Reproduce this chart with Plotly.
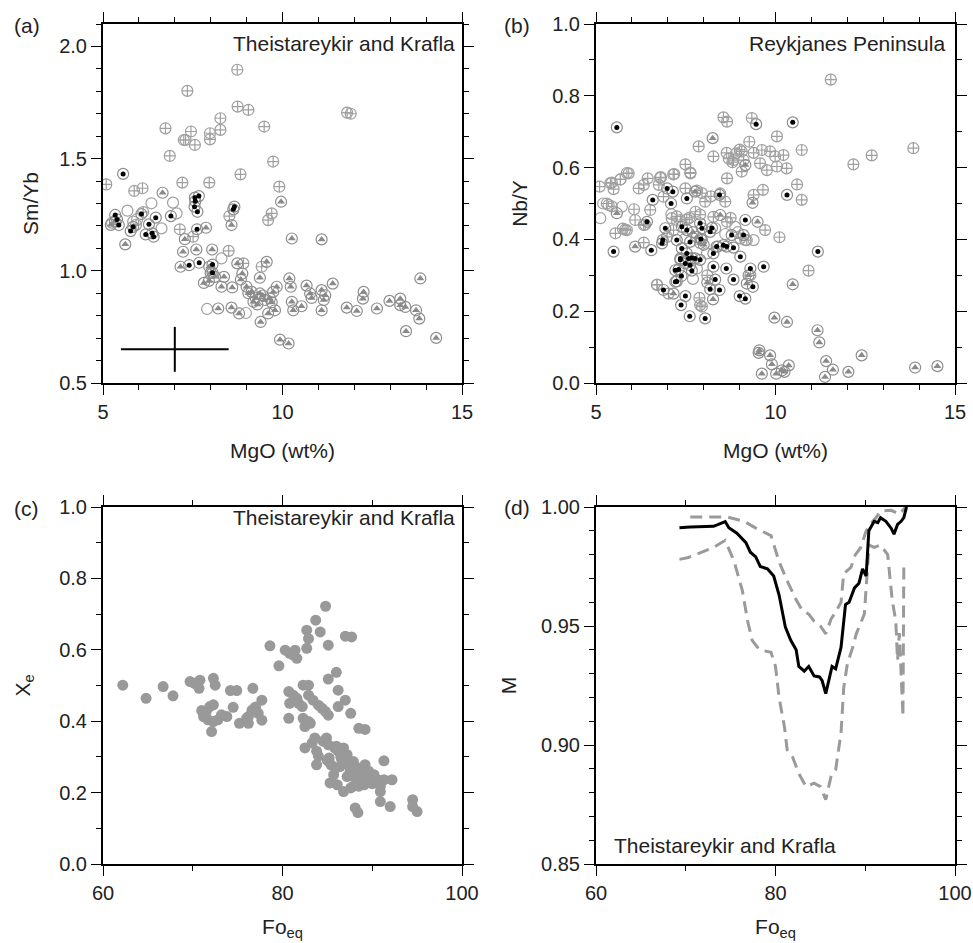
import plotly.graph_objects as go

# ---------------- Panel (a): Theistareykir and Krafla, Sm/Yb vs MgO ----------------
a_cross_x = [8.74, 7.35, 8.75, 9.05, 8.27, 8.27, 7.45, 7.98, 7.98, 7.25, 6.74, 7.56, 6.86, 9.49, 9.74,
             8.83, 7.21, 7.96, 9.91, 5.09, 5.87, 6.10, 7.14, 8.52, 9.70, 9.60, 7.51, 8.50, 8.91, 9.42,
             11.80, 11.90, 7.30, 6.12, 5.92]
a_cross_y = [1.896, 1.802, 1.732, 1.717, 1.680, 1.628, 1.621, 1.613, 1.586, 1.583, 1.635, 1.561, 1.512, 1.643, 1.487,
             1.430, 1.393, 1.393, 1.375, 1.385, 1.356, 1.368, 1.185, 1.244, 1.256, 1.226, 1.152, 1.089, 1.033, 1.018,
             1.705, 1.700, 1.583, 1.262, 1.205]
a_dot_x = [5.56, 5.34, 5.39, 5.44, 5.84, 5.77, 6.07, 6.28, 6.19, 6.37, 6.41, 6.47, 6.89, 7.57, 7.55,
           7.63, 7.67, 7.56, 7.62, 8.66, 8.63, 7.40, 7.68, 8.05, 8.05]
a_dot_y = [1.432, 1.249, 1.229, 1.204, 1.196, 1.177, 1.253, 1.207, 1.162, 1.167, 1.152, 1.237, 1.244, 1.310, 1.286,
           1.263, 1.333, 1.326, 1.185, 1.286, 1.274, 1.025, 1.036, 1.028, 0.991]
a_open_x = [5.68, 6.35, 6.63, 6.95, 7.05, 5.84, 8.30, 7.90, 8.98, 5.25, 5.95]
a_open_y = [1.268, 1.301, 1.189, 1.304, 1.256, 1.219, 1.055, 0.830, 0.812, 1.215, 1.230]
a_tri_x = [6.66, 5.62, 5.33, 5.22, 7.87, 8.58, 7.28, 7.23, 7.60, 8.04, 7.16, 7.81, 7.96, 8.21, 8.12,
           8.37, 8.30, 8.60, 8.74, 8.88, 8.84, 8.58, 8.79, 9.00, 9.14, 9.19, 9.37, 9.39, 9.56, 9.37,
           9.65, 9.74, 9.84, 9.60, 9.79, 9.96, 10.26, 11.09, 10.19, 10.23, 10.26, 10.30, 10.53, 10.67, 10.77,
           10.81, 11.09, 11.19, 11.09, 11.40, 11.79, 12.07, 12.26, 12.24, 12.63, 12.98, 13.28, 13.28, 13.42, 13.44,
           13.72, 13.81, 13.84, 14.28, 9.93, 10.17, 9.05, 9.25, 9.50, 9.70, 8.00, 7.95, 11.15, 9.30, 9.45]
a_tri_y = [1.348, 1.118, 1.219, 1.205, 1.192, 1.204, 1.141, 1.085, 1.095, 1.095, 1.018, 0.946, 1.018, 0.832, 0.973,
           0.973, 0.929, 0.926, 1.033, 0.988, 0.961, 0.836, 0.810, 0.929, 0.906, 0.862, 0.899, 0.772, 1.040, 0.969,
           0.877, 0.906, 0.929, 0.810, 0.824, 1.308, 1.144, 1.140, 0.966, 0.929, 0.862, 0.824, 0.842, 0.934, 0.899,
           0.879, 0.914, 0.891, 0.824, 0.943, 0.836, 0.821, 0.906, 0.876, 0.832, 0.866, 0.876, 0.847, 0.839, 0.731,
           0.824, 0.787, 0.966, 0.701, 0.693, 0.676, 0.900, 0.880, 0.870, 0.860, 0.990, 0.955, 0.870, 0.850, 0.890]
a_err_x = [5.5, 8.5, None, 7.0, 7.0]
a_err_y = [0.65, 0.65, None, 0.55, 0.75]

# ---------------- Panel (b): Reykjanes Peninsula, Nb/Y vs MgO ----------------
b_cross_x = [11.54, 8.55, 8.65, 9.34, 9.27, 10.04, 10.73, 13.84, 12.68, 12.17, 7.86, 8.27, 8.64, 8.83, 9.06,
             9.11, 9.39, 9.62, 9.85, 9.99, 10.22, 9.57, 9.76, 10.04, 10.31, 9.06, 10.60, 10.73, 8.65, 9.65,
             9.39, 9.71, 10.11, 10.92, 7.49, 7.63, 7.18, 6.81, 6.44, 6.33, 6.19, 5.91, 5.68, 5.44, 5.10,
             5.49, 6.06, 6.09, 6.33, 6.51, 6.75, 6.88, 7.49, 7.81, 8.04, 6.70, 7.02, 7.88, 7.90, 5.54,
             5.86, 6.33, 8.46, 8.60, 8.27, 8.65, 7.35, 7.11, 7.16, 7.77, 6.98, 9.02, 9.20, 8.70, 8.80,
             8.90, 9.00, 5.30, 5.75, 7.60, 5.40, 5.68, 5.86, 5.44, 6.37, 5.81, 6.79, 7.15, 7.63, 7.95,
             7.25, 7.53, 7.90, 6.70, 7.95, 8.40, 8.10, 8.75, 9.30, 8.20]
b_cross_y = [0.845, 0.740, 0.728, 0.738, 0.672, 0.687, 0.649, 0.654, 0.634, 0.609, 0.659, 0.631, 0.641, 0.621, 0.645,
             0.621, 0.641, 0.649, 0.645, 0.631, 0.635, 0.612, 0.593, 0.603, 0.598, 0.589, 0.553, 0.510, 0.570, 0.538,
             0.524, 0.426, 0.406, 0.313, 0.609, 0.584, 0.582, 0.573, 0.570, 0.552, 0.542, 0.584, 0.567, 0.558, 0.547,
             0.540, 0.484, 0.454, 0.440, 0.482, 0.552, 0.519, 0.542, 0.536, 0.505, 0.273, 0.249, 0.237, 0.217, 0.417,
             0.426, 0.391, 0.528, 0.505, 0.463, 0.449, 0.454, 0.459, 0.426, 0.477, 0.407, 0.403, 0.398, 0.625, 0.615,
             0.640, 0.650, 0.500, 0.430, 0.460, 0.557, 0.567, 0.585, 0.492, 0.441, 0.427, 0.571, 0.581, 0.586, 0.529,
             0.464, 0.455, 0.469, 0.274, 0.213, 0.380, 0.300, 0.460, 0.300, 0.520]
b_dot_x = [5.58, 9.46, 10.48, 10.32, 11.18, 5.49, 6.54, 6.58, 6.42, 7.09, 7.14, 6.98, 7.53, 6.93, 6.86,
           6.84, 7.25, 7.39, 7.53, 7.62, 7.39, 7.53, 7.58, 7.35, 7.30, 7.49, 7.62, 7.76, 7.21, 7.38,
           7.21, 6.88, 7.67, 7.49, 7.37, 7.61, 8.04, 7.90, 7.95, 8.18, 7.92, 8.27, 8.32, 8.18, 8.44,
           8.36, 8.27, 8.64, 8.55, 8.78, 8.83, 8.63, 8.83, 9.11, 9.16, 9.02, 9.30, 9.67, 9.37, 9.16,
           9.00, 8.44, 7.67, 7.35, 7.25, 8.23, 7.90]
b_dot_y = [0.712, 0.721, 0.726, 0.524, 0.366, 0.366, 0.370, 0.510, 0.449, 0.500, 0.533, 0.542, 0.514, 0.431, 0.398,
           0.389, 0.398, 0.435, 0.426, 0.393, 0.375, 0.361, 0.347, 0.347, 0.316, 0.333, 0.328, 0.347, 0.314, 0.298,
           0.282, 0.259, 0.313, 0.242, 0.217, 0.186, 0.180, 0.445, 0.431, 0.421, 0.401, 0.324, 0.288, 0.261, 0.259,
           0.380, 0.361, 0.380, 0.384, 0.412, 0.377, 0.319, 0.288, 0.412, 0.454, 0.352, 0.319, 0.324, 0.268, 0.235,
           0.242, 0.524, 0.348, 0.343, 0.283, 0.432, 0.343]
b_tri_x = [8.25, 9.55, 9.53, 9.62, 9.85, 9.90, 9.97, 10.32, 10.02, 10.18, 10.25, 10.37, 10.48, 11.17, 11.22,
           11.41, 11.38, 11.60, 12.03, 12.40, 13.89, 14.51, 9.50, 9.36, 8.26, 6.09, 8.46, 7.81, 7.95, 9.16,
           7.16, 9.20, 7.76, 5.58, 7.90, 8.10, 9.25, 8.00, 7.70]
b_tri_y = [0.682, 0.091, 0.084, 0.026, 0.077, 0.052, 0.182, 0.170, 0.026, 0.035, 0.031, 0.049, 0.275, 0.147, 0.113,
           0.061, 0.017, 0.037, 0.031, 0.077, 0.043, 0.047, 0.449, 0.502, 0.233, 0.380, 0.468, 0.407, 0.398, 0.607,
           0.249, 0.277, 0.533, 0.473, 0.390, 0.280, 0.300, 0.385, 0.420]
b_open_x = [5.12, 5.35, 5.72, 6.79, 9.16, 9.39, 8.88, 7.81, 8.09, 8.32, 7.49, 5.20, 7.70, 8.95, 7.10, 8.60]
b_open_y = [0.459, 0.496, 0.491, 0.573, 0.398, 0.398, 0.435, 0.319, 0.361, 0.431, 0.403, 0.500, 0.290, 0.420, 0.470, 0.415]

# ---------------- Panel (c): Xe vs Fo_eq ----------------
c_x = [62.2, 64.8, 66.7, 67.8, 69.7, 70.2, 70.7, 70.8, 72.3, 72.5, 71.2, 71.5, 71.9, 72.3, 71.7,
       72.3, 72.1, 72.8, 73.2, 73.8, 74.2, 74.9, 74.5, 75.2, 76.0, 76.2, 76.7, 76.6, 76.9, 77.3,
       77.7, 77.7, 76.2, 78.6, 79.6, 80.3, 80.8, 81.4, 81.6, 81.2, 82.7, 82.9, 82.7, 83.7, 84.2,
       84.8, 85.1, 87.0, 87.7, 85.1, 86.0, 86.2, 80.7, 80.8, 81.2, 81.6, 81.8, 82.3, 82.9, 80.7,
       82.2, 82.9, 83.4, 84.0, 84.4, 84.8, 85.1, 82.3, 82.9, 82.5, 83.1, 86.2, 87.0, 87.6, 88.5,
       89.2, 82.5, 83.3, 83.6, 83.8, 84.0, 83.8, 84.5, 84.9, 85.1, 85.2, 85.4, 85.8, 86.2, 86.6,
       86.8, 87.2, 87.3, 86.4, 85.7, 85.3, 86.1, 86.8, 87.2, 87.6, 87.9, 88.1, 88.5, 88.9, 89.2,
       89.4, 89.8, 90.2, 90.6, 90.9, 90.9, 91.3, 91.3, 92.2, 90.9, 92.0, 88.1, 88.4, 94.5, 94.5,
       95.0, 88.7, 89.1, 87.9, 87.6, 85.9, 85.0, 86.5, 87.5, 88.3, 89.6, 90.0, 86.0, 71.0, 77.0]
c_y = [0.501, 0.464, 0.497, 0.471, 0.511, 0.506, 0.492, 0.515, 0.520, 0.501, 0.413, 0.427, 0.441, 0.446, 0.404,
       0.399, 0.371, 0.404, 0.418, 0.413, 0.486, 0.486, 0.439, 0.394, 0.408, 0.394, 0.492, 0.431, 0.436, 0.422,
       0.459, 0.403, 0.413, 0.611, 0.555, 0.599, 0.590, 0.599, 0.576, 0.585, 0.655, 0.631, 0.604, 0.683, 0.650,
       0.722, 0.613, 0.638, 0.636, 0.518, 0.537, 0.487, 0.483, 0.450, 0.473, 0.464, 0.450, 0.501, 0.501, 0.408,
       0.441, 0.473, 0.459, 0.445, 0.436, 0.427, 0.417, 0.408, 0.399, 0.385, 0.394, 0.441, 0.459, 0.422, 0.380,
       0.377, 0.325, 0.339, 0.353, 0.316, 0.302, 0.278, 0.344, 0.353, 0.334, 0.297, 0.278, 0.325, 0.316, 0.292,
       0.325, 0.306, 0.278, 0.273, 0.250, 0.227, 0.222, 0.203, 0.245, 0.264, 0.287, 0.241, 0.218, 0.259, 0.278,
       0.245, 0.231, 0.250, 0.236, 0.218, 0.203, 0.236, 0.289, 0.236, 0.175, 0.161, 0.157, 0.144, 0.180, 0.161,
       0.147, 0.231, 0.222, 0.218, 0.213, 0.268, 0.290, 0.300, 0.255, 0.270, 0.260, 0.225, 0.330, 0.430, 0.440]

# ---------------- Panel (d): M vs Fo_eq ----------------
d_mid_x = [69.3, 70.5, 73.1, 74.4, 74.8, 75.7, 76.7, 77.2, 77.8, 78.3, 79.1, 79.8, 80.4, 80.8, 81.1,
           81.7, 82.3, 82.6, 83.2, 83.7, 84.3, 84.9, 85.2, 85.6, 86.0, 86.3, 86.7, 87.3, 87.8, 88.2,
           88.8, 89.3, 89.7, 90.1, 90.4, 91.0, 91.4, 91.7, 92.3, 92.9, 93.2, 93.6, 94.0, 94.3, 94.6]
d_mid_y = [0.9913, 0.9916, 0.9919, 0.9939, 0.9913, 0.9890, 0.9850, 0.9810, 0.9790, 0.9750, 0.9740, 0.9710, 0.9630, 0.9550, 0.9495,
           0.9440, 0.9400, 0.9330, 0.9310, 0.9330, 0.9290, 0.9286, 0.9270, 0.9216, 0.9286, 0.9330, 0.9320, 0.9410, 0.9590, 0.9600,
           0.9660, 0.9680, 0.9740, 0.9710, 0.9900, 0.9940, 0.9934, 0.9955, 0.9940, 0.9910, 0.9886, 0.9927, 0.9940, 0.9955, 1.0000]
d_up_x = [70.5, 74.6, 76.5, 78.0, 79.5, 80.4, 81.3, 82.3, 83.0, 83.7, 84.3, 85.0, 85.6, 86.2, 86.7,
          87.3, 87.6, 88.4, 88.9, 89.5, 90.1, 90.6, 91.2, 91.7, 92.9, 93.8, 94.5]
d_up_y = [0.9958, 0.9958, 0.9940, 0.9907, 0.9880, 0.9770, 0.9690, 0.9610, 0.9565, 0.9550, 0.9520, 0.9500, 0.9467, 0.9530, 0.9558,
          0.9600, 0.9720, 0.9746, 0.9800, 0.9830, 0.9900, 0.9930, 0.9955, 0.9983, 0.9986, 0.9970, 1.0000]
d_lo_x = [69.3, 70.3, 71.8, 73.1, 74.4, 75.4, 76.3, 76.9, 77.4, 78.2, 79.5, 80.0, 80.4, 81.0, 81.3,
          81.9, 82.6, 83.4, 84.3, 85.0, 85.6, 86.2, 86.7, 87.3, 87.6, 88.0, 88.6, 89.0, 89.3, 89.9,
          90.3, 90.4, 91.0, 91.7, 92.5, 93.0, 93.4, 93.6, 93.8, 94.2, 94.3]
d_lo_y = [0.9780, 0.9788, 0.9810, 0.9830, 0.9860, 0.9770, 0.9650, 0.9520, 0.9440, 0.9400, 0.9390, 0.9330, 0.9200, 0.9076, 0.8980,
          0.8950, 0.8880, 0.8825, 0.8840, 0.8825, 0.8770, 0.8870, 0.8895, 0.9050, 0.9240, 0.9340, 0.9410, 0.9467, 0.9495, 0.9550,
          0.9770, 0.9840, 0.9830, 0.9840, 0.9800, 0.9610, 0.9520, 0.9355, 0.9470, 0.9120, 0.9760]

# ---------------- styling ----------------
FONT = "Liberation Sans, Arial, Helvetica, sans-serif"
RING = "#8e8e8e"
RING_LIGHT = "#a0a0a0"
TRI = "#8a8a8a"
SZ = 11

fig = go.Figure()


def add_symbol_groups(xa, ya, cx, cy, dx, dy, tx, ty, ox, oy):
    fig.add_trace(go.Scatter(x=ox, y=oy, mode="markers", xaxis=xa, yaxis=ya, showlegend=False,
                             marker=dict(symbol="circle-open", size=SZ, color=RING_LIGHT, line=dict(width=1.2))))
    fig.add_trace(go.Scatter(x=cx, y=cy, mode="markers", xaxis=xa, yaxis=ya, showlegend=False,
                             marker=dict(symbol="circle-cross-open", size=SZ, color=RING_LIGHT, line=dict(width=1.2))))
    fig.add_trace(go.Scatter(x=tx, y=ty, mode="markers", xaxis=xa, yaxis=ya, showlegend=False,
                             marker=dict(symbol="circle-open", size=SZ, color=RING, line=dict(width=1.2))))
    fig.add_trace(go.Scatter(x=tx, y=ty, mode="markers", xaxis=xa, yaxis=ya, showlegend=False,
                             marker=dict(symbol="triangle-up", size=7, color=TRI, line=dict(width=0))))
    fig.add_trace(go.Scatter(x=dx, y=dy, mode="markers", xaxis=xa, yaxis=ya, showlegend=False,
                             marker=dict(symbol="circle-open", size=SZ, color=RING, line=dict(width=1.2))))
    fig.add_trace(go.Scatter(x=dx, y=dy, mode="markers", xaxis=xa, yaxis=ya, showlegend=False,
                             marker=dict(symbol="circle", size=5, color="black", line=dict(width=0))))


add_symbol_groups("x", "y", a_cross_x, a_cross_y, a_dot_x, a_dot_y, a_tri_x, a_tri_y, a_open_x, a_open_y)
fig.add_trace(go.Scatter(x=a_err_x, y=a_err_y, mode="lines", xaxis="x", yaxis="y", showlegend=False,
                         line=dict(color="black", width=2)))
add_symbol_groups("x2", "y2", b_cross_x, b_cross_y, b_dot_x, b_dot_y, b_tri_x, b_tri_y, b_open_x, b_open_y)

fig.add_trace(go.Scatter(x=c_x, y=c_y, mode="markers", xaxis="x3", yaxis="y3", showlegend=False,
                         marker=dict(symbol="circle", size=11, color="#999999", line=dict(width=0))))

fig.add_trace(go.Scatter(x=d_up_x, y=d_up_y, mode="lines", xaxis="x4", yaxis="y4", showlegend=False,
                         line=dict(color="#9a9a9a", width=3, dash="12px,7px")))
fig.add_trace(go.Scatter(x=d_lo_x, y=d_lo_y, mode="lines", xaxis="x4", yaxis="y4", showlegend=False,
                         line=dict(color="#9a9a9a", width=3, dash="12px,7px")))
fig.add_trace(go.Scatter(x=d_mid_x, y=d_mid_y, mode="lines", xaxis="x4", yaxis="y4", showlegend=False,
                         line=dict(color="black", width=3)))

W, H = 973, 943
colL = [103 / W, 462 / W]
colR = [596 / W, 955 / W]
rowT = [(H - 383) / H, (H - 24) / H]
rowB = [(H - 864) / H, (H - 507) / H]


def ax(domain, rng, dtick, mdtick, title, fmt=None, anchor=None, standoff=None):
    d = dict(domain=domain, range=rng, dtick=dtick, tick0=rng[0], showline=True, linecolor="black",
             linewidth=2, mirror="allticks", ticks="outside", ticklen=10, tickwidth=1.2, tickcolor="black",
             showgrid=False, zeroline=False, anchor=anchor, automargin=False,
             minor=dict(ticks="outside", ticklen=5, tickwidth=1.2, tickcolor="black", dtick=mdtick,
                        tick0=rng[0], showgrid=False),
             tickfont=dict(size=20, color="#222222", family=FONT),
             title=dict(text=title, font=dict(size=21, color="#222222", family=FONT)))
    if fmt:
        d["tickformat"] = fmt
    if standoff is not None:
        d["title"]["standoff"] = standoff
    return d


fig.update_layout(
    width=W, height=H, margin=dict(l=0, r=0, t=0, b=0),
    paper_bgcolor="white", plot_bgcolor="white",
    font=dict(family=FONT, size=20, color="#222222"),
    xaxis=ax(colL, [5, 15], 5, 1, "MgO (wt%)", anchor="y", standoff=21),
    yaxis=ax(rowT, [0.5, 2.1], 0.5, 0.1, "Sm/Yb", ".1f", anchor="x", standoff=15),
    xaxis2=ax(colR, [5, 15], 5, 1, "MgO (wt%)", anchor="y2", standoff=21),
    yaxis2=ax(rowT, [0, 1.0], 0.2, 0.1, "Nb/Y", ".1f", anchor="x2", standoff=19),
    xaxis3=ax(colL, [60, 100], 20, 10, "Fo<sub>eq</sub>", anchor="y3", standoff=16),
    yaxis3=ax(rowB, [0, 1.0], 0.2, 0.1, "X<sub>e</sub>", ".1f", anchor="x3", standoff=23),
    xaxis4=ax(colR, [60, 100], 20, 10, "Fo<sub>eq</sub>", anchor="y4", standoff=16),
    yaxis4=ax(rowB, [0.85, 1.0], 0.05, 0.01, "M", ".2f", anchor="x4", standoff=19),
)

ann_font = dict(size=21, color="#222222", family=FONT)
annotations = [
    dict(text="Theistareykir and Krafla", xref="x domain", yref="y domain", x=0.985, y=0.947,
         xanchor="right", yanchor="middle", showarrow=False, font=ann_font),
    dict(text="Reykjanes Peninsula", xref="x2 domain", yref="y2 domain", x=0.977, y=0.947,
         xanchor="right", yanchor="middle", showarrow=False, font=ann_font),
    dict(text="Theistareykir and Krafla", xref="x3 domain", yref="y3 domain", x=0.985, y=0.97,
         xanchor="right", yanchor="middle", showarrow=False, font=ann_font),
    dict(text="Theistareykir and Krafla", xref="x4 domain", yref="y4 domain", x=0.045, y=0.053,
         xanchor="left", yanchor="middle", showarrow=False, font=ann_font),
    dict(text="(a)", xref="paper", yref="paper", x=12 / W, y=1 - 25 / H, xanchor="left", yanchor="middle",
         showarrow=False, font=ann_font),
    dict(text="(b)", xref="paper", yref="paper", x=502 / W, y=1 - 25 / H, xanchor="left", yanchor="middle",
         showarrow=False, font=ann_font),
    dict(text="(c)", xref="paper", yref="paper", x=12 / W, y=1 - 508 / H, xanchor="left", yanchor="middle",
         showarrow=False, font=ann_font),
    dict(text="(d)", xref="paper", yref="paper", x=502 / W, y=1 - 507 / H, xanchor="left", yanchor="middle",
         showarrow=False, font=ann_font),
]
fig.update_layout(annotations=annotations)

fig.write_html("out.html")
